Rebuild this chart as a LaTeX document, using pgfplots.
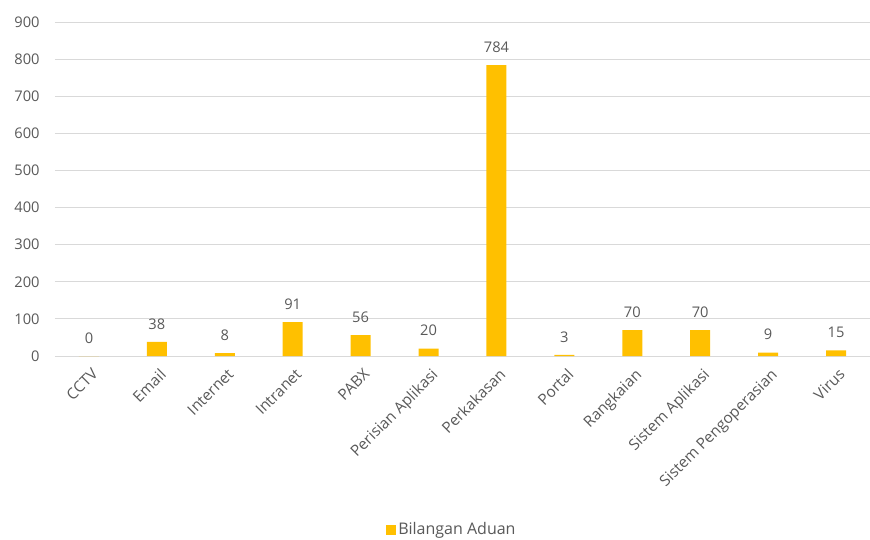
\documentclass[border=0pt]{standalone}
\usepackage{pgfplots}
\pgfplotsset{compat=1.18}
\usepackage{fontspec}
\setmainfont{Open Sans}
\definecolor{barc}{HTML}{FFC000}
\definecolor{txt}{HTML}{595959}
\definecolor{grd}{HTML}{D9D9D9}

\begin{document}
\begin{tikzpicture}
\useasboundingbox (-41.25pt,-137.25pt) rectangle (611.25pt,267pt);
\begin{axis}[
    at={(0,0)}, anchor=south west,
    scale only axis,
    width=611.25pt, height=250.5pt,
    ybar, bar width=15pt,
    xmin=-0.5, xmax=11.5,
    ymin=0, ymax=900,
    ytick={0,100,...,900},
    xtick=data,
    xticklabels={CCTV,Email,Internet,Intranet,PABX,Perisian Aplikasi,Perkakasan,Portal,Rangkaian,Sistem Aplikasi,Sistem Pengoperasian,Virus},
    x tick label style={rotate=45, anchor=north east, font=\fontsize{11.5}{13}\selectfont, text=txt, xshift=-4pt, yshift=-6pt, inner sep=1pt},
    y tick label style={font=\fontsize{11}{13}\selectfont, text=txt, xshift=-8pt},
    /pgf/number format/assume math mode=true,
    major tick length=0pt,
    ymajorgrids, grid style={grd, line width=0.75pt},
    axis x line*=bottom, axis y line*=left,
    axis line style={draw=none},
    nodes near coords,
    every node near coord/.append style={font=\fontsize{11}{13}\selectfont, text=txt, yshift=6pt},
    legend style={at={(0.487,-0.52)}, anchor=center, draw=none, font=\fontsize{12}{14}\selectfont, text=txt},
    legend image code/.code={\fill[barc] (-3pt,-3.75pt) rectangle (4.5pt,3.75pt);},
]
\addplot[fill=barc, draw=none] coordinates {
    (0,0) (1,38) (2,8) (3,91) (4,56) (5,20) (6,784) (7,3) (8,70) (9,70) (10,9) (11,15)
};
\addlegendentry{Bilangan Aduan}
\end{axis}
\end{tikzpicture}
\end{document}
